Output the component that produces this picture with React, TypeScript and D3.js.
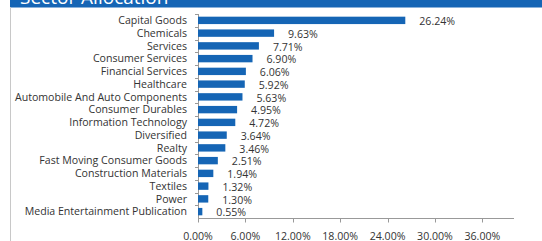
import React, { useEffect, useRef } from "react";
import * as d3 from "d3";

const sectors = [
  "Capital Goods",
  "Chemicals",
  "Services",
  "Consumer Services",
  "Financial Services",
  "Healthcare",
  "Automobile And Auto Components",
  "Consumer Durables",
  "Information Technology",
  "Diversified",
  "Realty",
  "Fast Moving Consumer Goods",
  "Construction Materials",
  "Textiles",
  "Power",
  "Media Entertainment Publication",
];
const weights = [26.24, 9.63, 7.71, 6.9, 6.06, 5.92, 5.63, 4.95, 4.72, 3.64, 3.46, 2.51, 1.94, 1.32, 1.3, 0.55];
const xTicks = [0, 6, 12, 18, 24, 30, 36];

const width = 542,
  height = 241;
const blue = "#1565b5";

const App = () => {
  const ref = useRef<SVGSVGElement>(null);

  useEffect(() => {
    const svg = d3.select(ref.current);
    svg.selectAll("*").remove();

    const data = sectors.map((s, i) => ({ name: s, value: weights[i] }));

    // header band + frame
    svg.append("rect").attr("x", 10).attr("y", 0).attr("width", width - 10).attr("height", 7.5).attr("fill", blue);
    svg
      .append("text")
      .attr("x", 20)
      .attr("y", 4)
      .attr("fill", "#fff")
      .style("font-size", "19px")
      .text("Sector Allocation");
    svg.append("line").attr("x1", 10.5).attr("x2", 10.5).attr("y1", 7).attr("y2", height).attr("stroke", "#c8c8c8");

    const x = d3.scaleLinear().domain([0, 40]).range([198, 514]);
    const y = d3
      .scaleBand()
      .domain(sectors)
      .range([14, 218])
      .paddingInner(0.42)
      .paddingOuter(0.21);

    // y axis with ticks at band edges
    svg.append("line").attr("x1", 198.5).attr("x2", 198.5).attr("y1", 14).attr("y2", 218).attr("stroke", "#999");
    const step = y.step();
    d3.range(sectors.length).forEach((i) => {
      const yy = Math.round(14 + i * step) + 0.5;
      svg.append("line").attr("x1", 195).attr("x2", 198).attr("y1", yy).attr("y2", yy).attr("stroke", "#999");
    });

    // x axis
    const xa = svg.append("g").attr("transform", "translate(0,218.5)");
    xa.append("line").attr("x1", x(0)).attr("x2", x(40)).attr("stroke", "#999");
    xTicks.forEach((t) => {
      xa.append("line")
        .attr("x1", Math.round(x(t)) + 0.5)
        .attr("x2", Math.round(x(t)) + 0.5)
        .attr("y1", 0)
        .attr("y2", 4)
        .attr("stroke", "#999");
      xa.append("text")
        .attr("x", x(t))
        .attr("y", 21)
        .attr("text-anchor", "middle")
        .attr("fill", "#333")
        .text(t.toFixed(2) + "%");
    });

    const g = svg.selectAll(".bar").data(data).enter().append("g");
    g.append("rect")
      .attr("x", x(0))
      .attr("y", (d) => y(d.name)!)
      .attr("width", (d) => x(d.value) - x(0))
      .attr("height", y.bandwidth())
      .attr("fill", blue);

    g.append("text")
      .attr("x", 187)
      .attr("y", (d) => y(d.name)! + y.bandwidth() / 2)
      .attr("dy", "0.35em")
      .attr("text-anchor", "end")
      .attr("fill", "#333")
      .text((d) => d.name);

    g.append("text")
      .attr("x", (d) => x(d.value) + 14)
      .attr("y", (d) => y(d.name)! + y.bandwidth() / 2 + 1)
      .attr("dy", "0.35em")
      .attr("fill", "#333")
      .text((d) => d.value.toFixed(2) + "%");
  }, []);

  return (
    <svg
      ref={ref}
      width={width}
      height={height}
      style={{
        position: "absolute",
        left: 0,
        top: 0,
        fontFamily: "'Open Sans', sans-serif",
        fontSize: "10.6px",
        background: "#fff",
      }}
    ></svg>
  );
};

export default App;
